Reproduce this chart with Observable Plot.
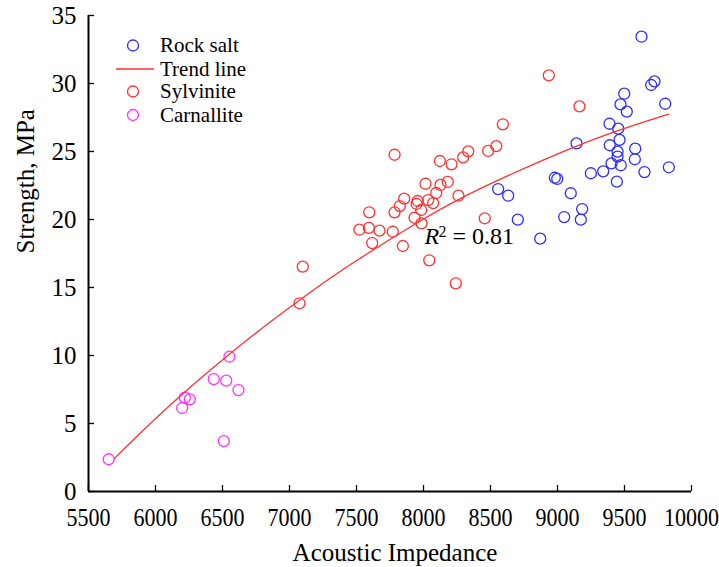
<!DOCTYPE html>
<html><head><meta charset="utf-8">
<script src="https://cdn.jsdelivr.net/npm/d3@7"></script>
<script src="https://cdn.jsdelivr.net/npm/@observablehq/plot@0.6"></script>
<style>
html,body{margin:0;padding:0;background:#fff;}
#chart{position:relative;width:719px;height:567px;}
#legend{position:absolute;left:0;top:0;pointer-events:none;}
</style></head><body><div id="chart"></div>
<script>
// Rock salt (blue)
const rockSaltImpedance = [8557,8632,8704,8871,8980,8998,9050,9099,9142,9174,9184,9249,9341,9388,9390,9403,9443,9448,9448,9453,9463,9470,9472,9498,9517,9577,9580,9627,9649,9699,9724,9804,9831];
const rockSaltStrength  = [22.24,21.75,19.99,18.59,23.07,22.98,20.18,21.93,25.60,19.99,20.77,23.40,23.54,27.04,25.46,24.13,22.78,24.99,24.62,26.68,25.85,28.47,23.99,29.25,27.93,24.43,25.21,33.44,23.49,29.89,30.16,28.51,23.84];
// Sylvinite (red)
const sylviniteImpedance = [7075,7099,7522,7592,7595,7617,7672,7771,7784,7784,7823,7846,7856,7933,7948,7957,7983,7985,8015,8035,8043,8072,8095,8122,8127,8181,8209,8241,8261,8296,8334,8457,8483,8543,8592,8935,9164];
const sylviniteStrength  = [13.84,16.53,19.25,19.38,20.53,18.27,19.18,19.10,24.76,20.53,20.99,18.05,21.53,20.13,21.14,21.36,20.70,19.72,22.63,21.43,17.00,21.21,21.95,24.30,22.54,22.76,24.06,15.31,21.75,24.57,25.01,20.09,25.04,25.40,27.00,30.60,28.32];
// Carnallite (magenta)
const carnalliteImpedance = [5651,6199,6219,6256,6435,6510,6528,6552,6619];
const carnalliteStrength  = [2.37,6.14,6.90,6.78,8.27,3.71,8.15,9.91,7.46];
// Trend line
const trendImpedance = [5690,6160,6730,7080,7380,7960,8450,9020,9440,9830];
const trendStrength  = [2.4,6.8,11.5,14.1,16.2,19.8,22.4,24.9,26.5,27.75];

const xTicks = [5500,6000,6500,7000,7500,8000,8500,9000,9500,10000];
const yTicks = [0,5,10,15,20,25,30,35];
const xTitle = "Acoustic Impedance";
const yTitle = "Strength, MPa";
const legendNames = ["Rock salt","Trend line","Sylvinite","Carnallite"];
const r2Label = {impedance: 8007, strength: 18.8, value: "0.81"};

const BLUE = "#2e2eff", RED = "#ff3030", MAGENTA = "#ff30ff";
const FONT = "'Liberation Serif','Times New Roman',serif";

const toRows = (xs, ys) => xs.map((x, i) => ({impedance: x, strength: ys[i]}));
const rockSalt = toRows(rockSaltImpedance, rockSaltStrength);
const sylvinite = toRows(sylviniteImpedance, sylviniteStrength);
const carnallite = toRows(carnalliteImpedance, carnalliteStrength);
const trend = toRows(trendImpedance, trendStrength);

const dotOpts = (color) => ({x: "impedance", y: "strength", r: 5.5, stroke: color, strokeWidth: 1.3, fill: "none"});

const chart = Plot.plot({
  width: 719, height: 567,
  marginLeft: 88, marginRight: 28, marginTop: 15, marginBottom: 76,
  style: {fontFamily: FONT, background: "#fff", color: "#000", overflow: "visible"},
  x: {domain: [5500, 10000]},
  y: {domain: [0, 35]},
  marks: [
    Plot.axisX({ticks: xTicks, tickSize: -6, tickPadding: 23, fontSize: 25, label: null, tickFormat: d => String(d), stroke: "#000", strokeWidth: 1.3}),
    Plot.axisY({ticks: yTicks, tickSize: -6, tickPadding: 18, fontSize: 25, label: null, tickFormat: d => String(d), stroke: "#000", strokeWidth: 1.3}),
    Plot.ruleX([xTicks[0]], {stroke: "#000", strokeWidth: 2}),
    Plot.ruleY([yTicks[0]], {stroke: "#000", strokeWidth: 2.2}),
    Plot.dot(sylvinite, dotOpts(RED)),
    Plot.dot(rockSalt, dotOpts(BLUE)),
    Plot.dot(carnallite, dotOpts(MAGENTA)),
    Plot.line(trend, {x: "impedance", y: "strength", stroke: RED, strokeWidth: 1.3, curve: "natural"}),
    Plot.text([yTitle], {text: d => d, frameAnchor: "left", rotate: -90, dx: -63, fontSize: 25}),
    Plot.text([xTitle], {text: d => d, frameAnchor: "bottom", dy: 69, dx: 5, fontSize: 25}),
    Plot.text([r2Label], {x: "impedance", y: "strength", text: () => "R", fontStyle: "italic", fontSize: 24, textAnchor: "start"}),
    Plot.text([r2Label], {x: "impedance", y: "strength", text: () => "2", fontSize: 16, textAnchor: "start", dx: 14, dy: -4}),
    Plot.text([r2Label], {x: "impedance", y: "strength", text: d => "= " + d.value, fontSize: 24, textAnchor: "start", dx: 28})
  ]
});
const host = document.getElementById("chart");
host.appendChild(chart);

// Condense the x tick labels horizontally, as in the reference
d3.select(chart).selectAll('g[aria-label="x-axis tick label"] text').each(function () {
  const t = this.getAttribute("transform") || "";
  this.setAttribute("transform", t + " scale(0.88,1)");
});

// Legend overlay (inside the plot area, top-left)
const legendColors = [BLUE, RED, RED, MAGENTA];
const legendKinds = ["dot", "line", "dot", "dot"];
const svg = d3.select(host).append("svg").attr("id", "legend").attr("width", 719).attr("height", 567);
const rowY = [45.5, 69, 91.5, 115];
legendNames.forEach((name, i) => {
  const g = svg.append("g").attr("transform", `translate(0,${rowY[i]})`);
  if (legendKinds[i] === "dot") {
    g.append("circle").attr("cx", 133).attr("cy", 0).attr("r", 5.5).attr("fill", "none").attr("stroke", legendColors[i]).attr("stroke-width", 1.3);
  } else {
    g.append("line").attr("x1", 116).attr("x2", 154).attr("y1", 0).attr("y2", 0).attr("stroke", legendColors[i]).attr("stroke-width", 1.5);
  }
  g.append("text").attr("x", 160).attr("y", 0).attr("dy", "0.33em").attr("font-family", FONT).attr("font-size", 21).attr("fill", "#000").text(name);
});
</script></body></html>
